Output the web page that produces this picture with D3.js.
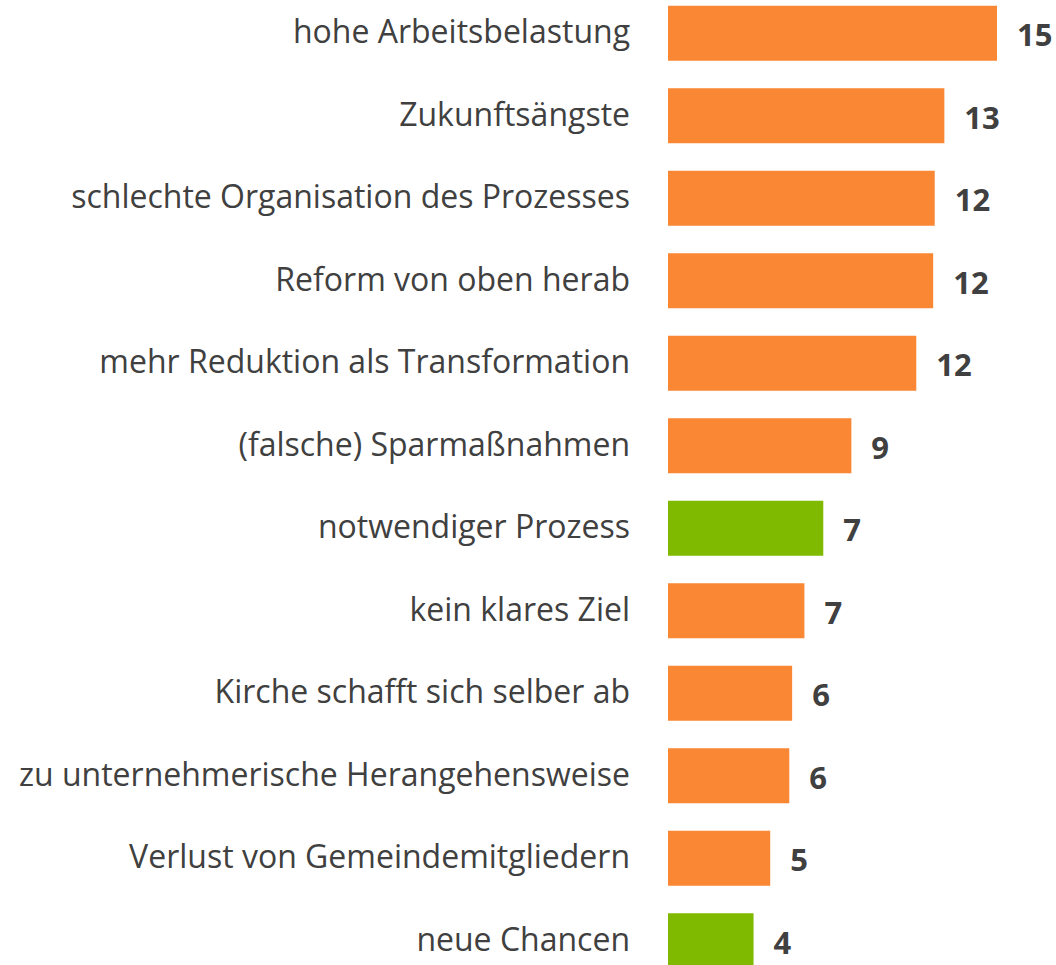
<!DOCTYPE html>
<html>
<head>
<meta charset="utf-8">
<script src="https://cdn.jsdelivr.net/npm/d3@7"></script>
<style>
  body { margin: 0; background: #fff; }
  svg { display: block; }
</style>
</head>
<body>
<div id="chart"></div>
<script>
const categories = [
    'hohe Arbeitsbelastung',
    'Zukunftsängste',
    'schlechte Organisation des Prozesses',
    'Reform von oben herab',
    'mehr Reduktion als Transformation',
    '(falsche) Sparmaßnahmen',
    'notwendiger Prozess',
    'kein klares Ziel',
    'Kirche schafft sich selber ab',
    'zu unternehmerische Herangehensweise',
    'Verlust von Gemeindemitgliedern',
    'neue Chancen'
];
// bar lengths
const values = [15.0, 12.6, 12.16, 12.09, 11.32, 8.36, 7.08, 6.22, 5.66, 5.53, 4.66, 3.9];
// printed value labels
const valueLabels = [15, 13, 12, 12, 12, 9, 7, 7, 6, 6, 5, 4];
// positive / negative tone
const tones = ['neg', 'neg', 'neg', 'neg', 'neg', 'neg', 'pos', 'neg', 'neg', 'neg', 'neg', 'pos'];

const width = 1056;
const height = 965;
const colors = { neg: '#fa8734', pos: '#80ba00' };

const svg = d3.select('#chart').append('svg')
    .attr('width', width)
    .attr('height', height);

const x = d3.scaleLinear()
    .domain([0, 15])
    .range([668, 997]);

const y = d3.scaleBand()
    .domain(categories)
    .range([-8, 982])
    .paddingInner(1 / 3)
    .paddingOuter(1 / 6);

const rows = categories.map((c, i) => ({ cat: c, value: values[i], label: valueLabels[i], tone: tones[i] }));

svg.selectAll('rect.bar')
    .data(rows)
    .enter()
    .append('rect')
    .attr('class', 'bar')
    .attr('x', x(0))
    .attr('y', d => y(d.cat))
    .attr('width', d => x(d.value) - x(0))
    .attr('height', y.bandwidth())
    .attr('fill', d => colors[d.tone]);

svg.selectAll('text.cat')
    .data(rows)
    .enter()
    .append('text')
    .attr('class', 'cat')
    .attr('x', 630)
    .attr('y', d => y(d.cat) + y.bandwidth() / 2 - 1)
    .attr('dy', '0.35em')
    .attr('text-anchor', 'end')
    .attr('font-family', 'Open Sans, sans-serif')
    .attr('font-size', 32)
    .attr('fill', '#404040')
    .text(d => d.cat);

svg.selectAll('text.val')
    .data(rows)
    .enter()
    .append('text')
    .attr('class', 'val')
    .attr('x', d => x(d.value) + 20)
    .attr('y', d => y(d.cat) + y.bandwidth() / 2 + 2)
    .attr('dy', '0.35em')
    .attr('font-family', 'Open Sans, sans-serif')
    .attr('font-weight', 'bold')
    .attr('font-size', 31)
    .attr('fill', '#404040')
    .text(d => d.label);
</script>
</body>
</html>
